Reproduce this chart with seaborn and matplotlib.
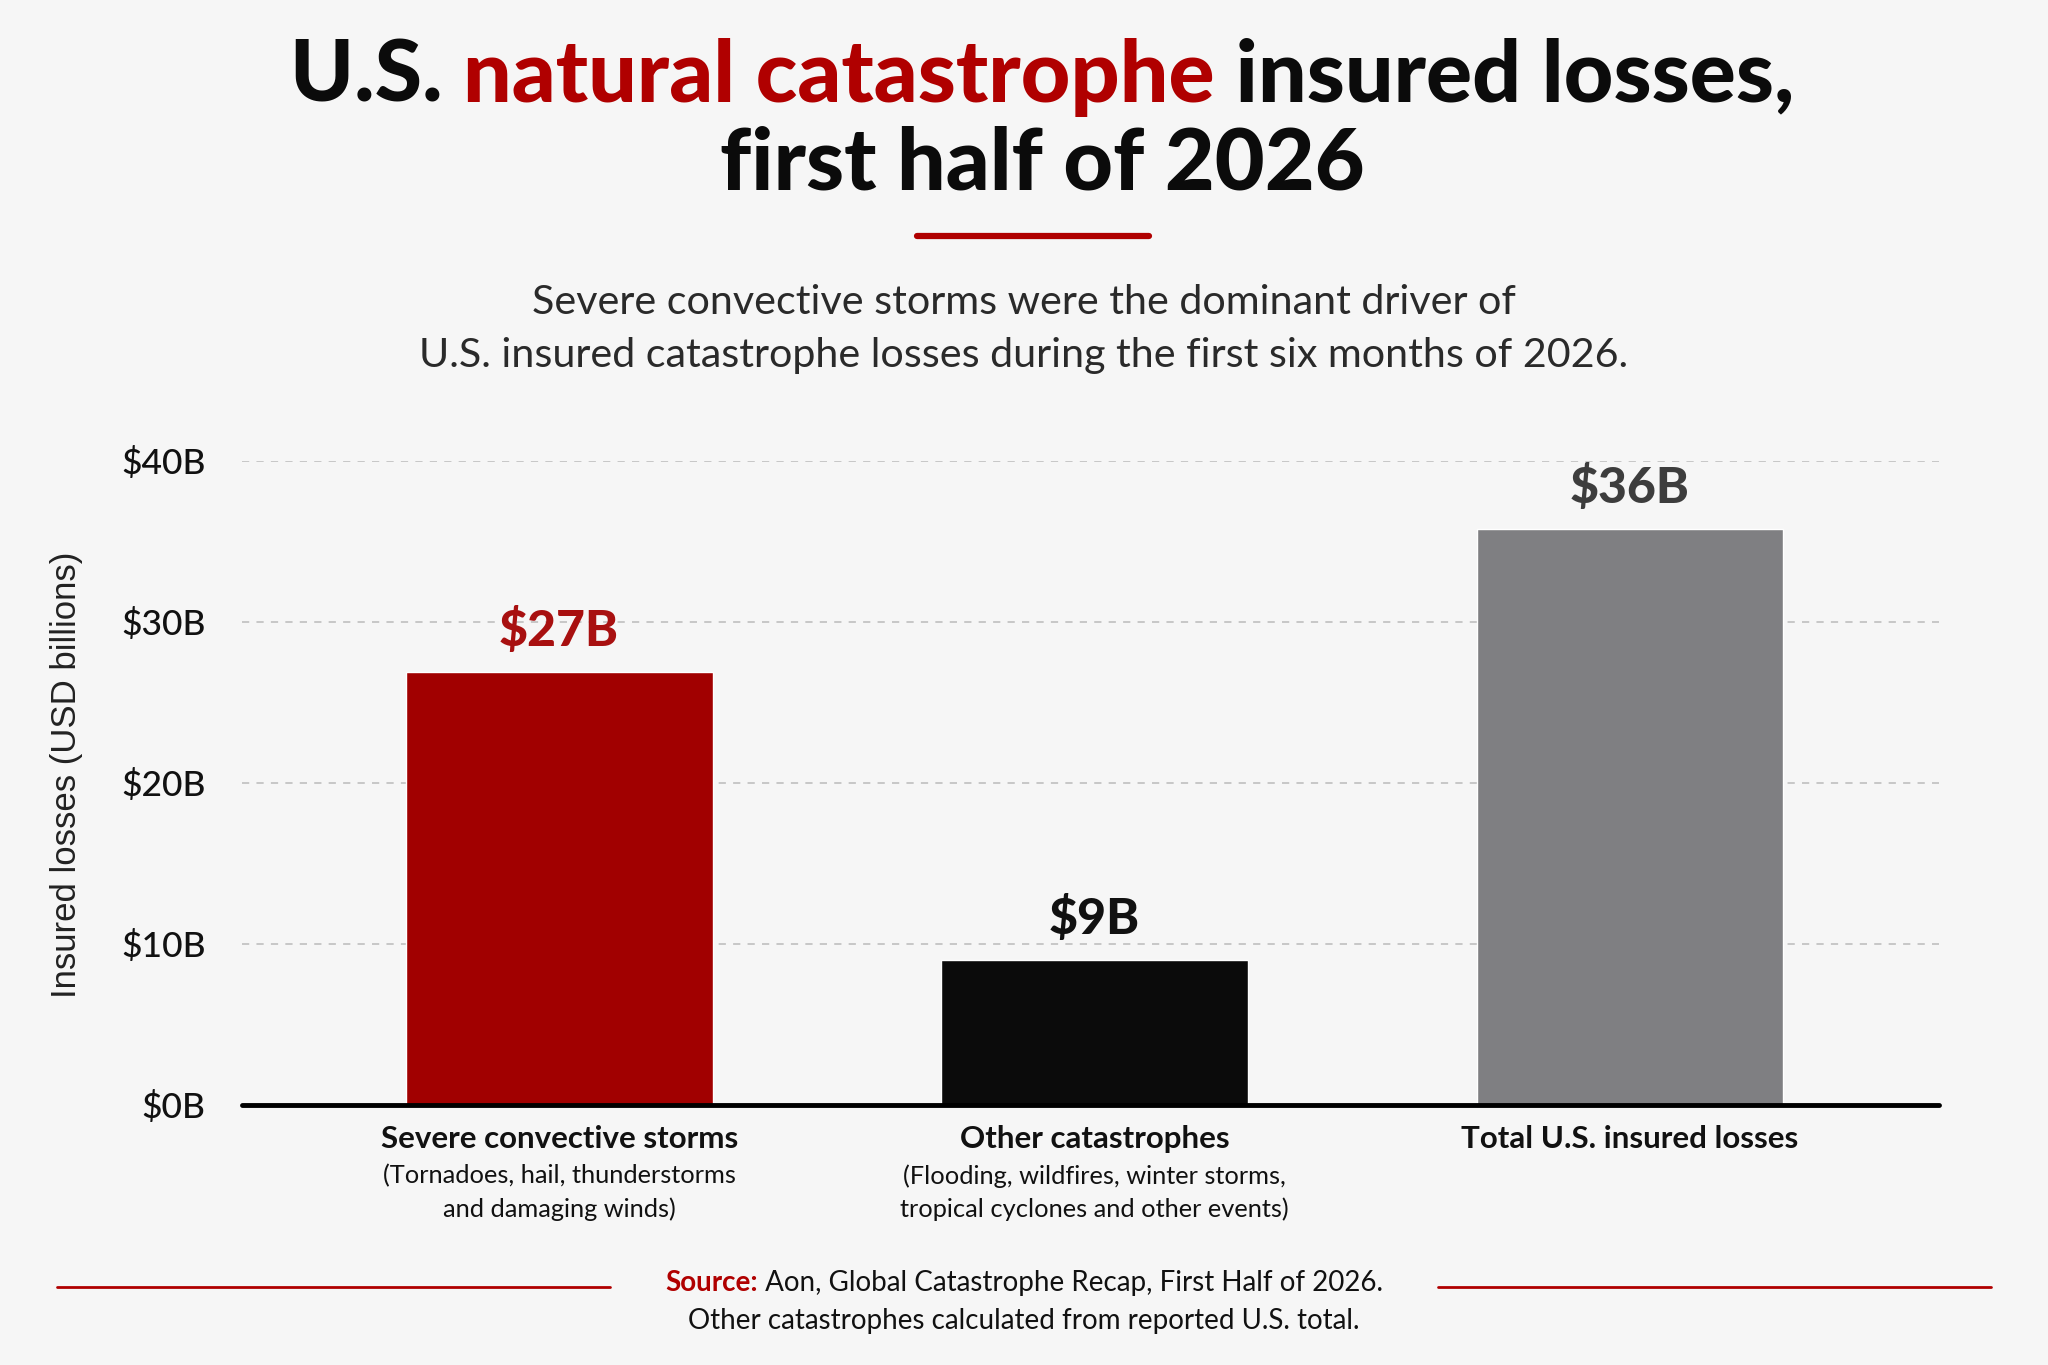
import matplotlib
matplotlib.use("Agg")
import matplotlib.pyplot as plt
import matplotlib.transforms as mtransforms
import seaborn as sns
import pandas as pd

# data
categories = ["Severe convective storms", "Other catastrophes", "Total U.S. insured losses"]
subtitles = [
    "(Tornadoes, hail, thunderstorms\nand damaging winds)",
    "(Flooding, wildfires, winter storms,\ntropical cyclones and other events)",
    "",
]
losses = [26.9, 9.0, 35.8]
value_labels = ["$27B", "$9B", "$36B"]
yticks = [0, 10, 20, 30, 40]

bar_colors = ["#a10000", "#0b0b0b", "#7f7f82"]
label_colors = ["#a81010", "#111111", "#3d3d3d"]
RED = "#b00000"
BG = "#f6f6f6"

sns.set_theme(style="white")
plt.rcParams["font.family"] = ["Lato", "DejaVu Sans"]

fig = plt.figure(figsize=(20.48, 13.65), dpi=100, facecolor=BG)
ax = fig.add_axes([0.118, 0.1905, 0.829, 0.4718])
ax.set_facecolor(BG)

df = pd.DataFrame({"category": categories, "loss": losses})
sns.barplot(data=df, x="category", y="loss", hue="category", palette=bar_colors,
            legend=False, width=0.573, saturation=1, ax=ax, zorder=3)

ax.set_ylim(0, 40)
ax.set_xlim(-0.593, 2.578)
ax.set_yticks(yticks)
ax.set_yticklabels([f"${t}B" for t in yticks], fontsize=25.5, fontweight="medium", color="#111111")
ax.tick_params(axis="y", length=0, pad=26)
ax.set_xticks([])
ax.set_xlabel("")
ax.set_ylabel("")
for s in ax.spines.values():
    s.set_visible(False)
ax.set_axisbelow(True)
ax.yaxis.grid(True, linestyle=(0, (4, 4)), color="#c4c4c4", linewidth=1.3)
ax.axhline(0, color="#000000", linewidth=3.5, zorder=4, clip_on=False)

# value labels above bars
for patch, lab, col in zip(ax.patches, value_labels, label_colors):
    cx = patch.get_x() + patch.get_width() / 2
    ax.annotate(lab, (cx, patch.get_height()), xytext=(0, 13), textcoords="offset points",
                ha="center", va="bottom", fontsize=36, fontweight="black", color=col)

# category labels under the axis
blend = mtransforms.blended_transform_factory(ax.transData, fig.transFigure)
for i, (cat, sub) in enumerate(zip(categories, subtitles)):
    ax.text(i, 0.1656, cat, transform=blend, ha="center", va="center",
            fontsize=22.5, fontweight="bold", color="#111111")
    if sub:
        ax.text(i, 0.1262, sub, transform=blend, ha="center", va="center",
                fontsize=18.3, color="#111111", linespacing=1.5)

fig.text(0.0325, 0.4325, "Insured losses (USD billions)", rotation=90, ha="center", va="center",
         fontsize=25, color="#222222", family=["Liberation Sans", "DejaVu Sans"])


def colored_line(parts, y, size, weight, center=0.5):
    """Draw a centred line of text made of differently coloured pieces."""
    renderer = fig.canvas.get_renderer()
    texts = [fig.text(0, y, s, fontsize=size, fontweight=w or weight, color=c, va="baseline")
             for s, c, w in parts]
    widths = [t.get_window_extent(renderer).width / fig.bbox.width for t in texts]
    x = center - sum(widths) / 2
    for t, w in zip(texts, widths):
        t.set_x(x)
        x += w


colored_line([("U.S. ", "#0b0b0b", None), ("natural catastrophe", RED, None),
              (" insured losses,", "#0b0b0b", None)], 0.9254, 62, "black", center=0.509)
fig.text(0.509, 0.8612, "first half of 2026", ha="center", va="baseline",
         fontsize=62, fontweight="black", color="#0b0b0b")

fig.add_artist(plt.Line2D([0.4477, 0.5612], [0.8268, 0.8268], color=RED, linewidth=4.5))

fig.text(0.5, 0.770, "Severe convective storms were the dominant driver of",
         ha="center", va="baseline", fontsize=29.7, color="#2a2a2a")
fig.text(0.5, 0.731, "U.S. insured catastrophe losses during the first six months of 2026.",
         ha="center", va="baseline", fontsize=29.7, color="#2a2a2a")

# footer
fig.add_artist(plt.Line2D([0.028, 0.298], [0.0574, 0.0574], color=RED, linewidth=2))
fig.add_artist(plt.Line2D([0.702, 0.972], [0.0574, 0.0574], color=RED, linewidth=2))
colored_line([("Source:", RED, "bold"), (" Aon, Global Catastrophe Recap, First Half of 2026.", "#111111", "normal")],
             0.0545, 20, "normal")
fig.text(0.5, 0.0265, "Other catastrophes calculated from reported U.S. total.",
         ha="center", va="baseline", fontsize=20, color="#111111")

fig.savefig("out.png", dpi=100, facecolor=BG)
